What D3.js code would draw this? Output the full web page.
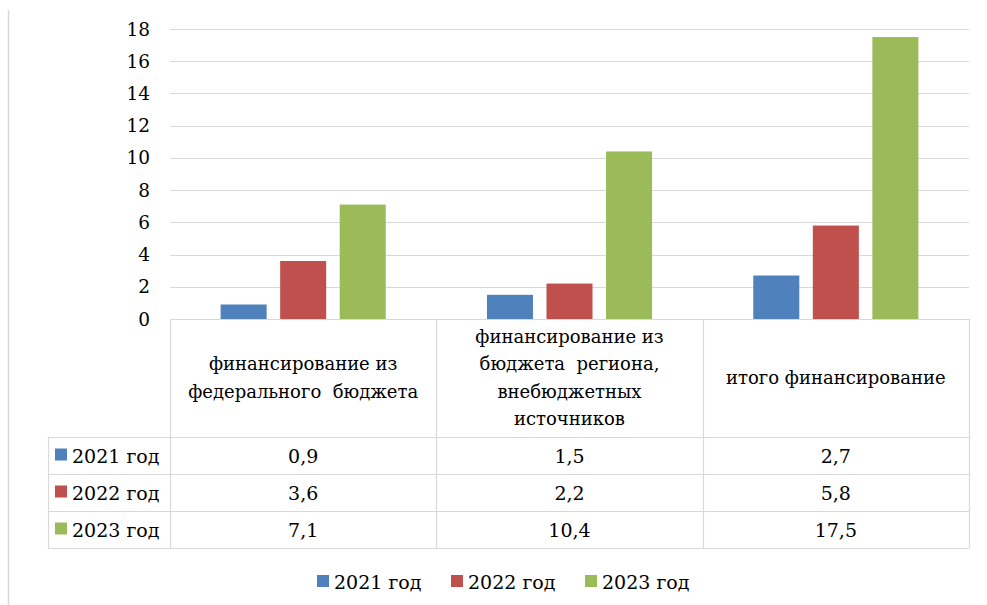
<!DOCTYPE html>
<html>
<head>
<meta charset="utf-8">
<script src="https://cdn.jsdelivr.net/npm/d3@7"></script>
<style>
  body { margin: 0; background: #fff; }
</style>
</head>
<body>
<svg id="chart" width="987" height="605"></svg>
<script>
// chart data
var categories = [
    ["финансирование из", "федерального  бюджета"],
    ["финансирование из", "бюджета  региона,", "внебюджетных", "источников"],
    ["итого финансирование"]
]
var seriesNames = ["2021 год", "2022 год", "2023 год"]
var seriesColors = ["#4f81bd", "#c0504d", "#9bbb59"]
var values2021 = [0.9, 1.5, 2.7]
var values2022 = [3.6, 2.2, 5.8]
var values2023 = [7.1, 10.4, 17.5]
var valueLabels = [["0,9", "1,5", "2,7"], ["3,6", "2,2", "5,8"], ["7,1", "10,4", "17,5"]]
var yTicks = [0, 2, 4, 6, 8, 10, 12, 14, 16, 18]

var allSeries = [values2021, values2022, values2023]

var svg = d3.select("#chart")
var gridColor = "#d9d9d9"
var FONT = "DejaVu Serif" // closest serif that actually loads here

var margin = {left: 170, right: 18, top: 29}
var plotW = 987 - margin.left - margin.right
var plotBottom = 319

var x = d3.scaleBand().domain(d3.range(categories.length)).range([margin.left, margin.left + plotW])
var xs = d3.scaleBand().domain(d3.range(seriesNames.length)).range([0, x.bandwidth()])
    .paddingInner(0.227).paddingOuter(0.85)
var y = d3.scaleLinear().domain([0, 18]).range([plotBottom, margin.top])

function addText(xx, yy, str, size, anchor){
    return svg.append("text").attr("x", xx).attr("y", yy)
        .attr("font-family", FONT).attr("font-size", size)
        .attr("text-anchor", anchor || "start").attr("fill", "#000")
        .text(str)
}

// outer frame line on the left
svg.append("line").attr("x1", 8.5).attr("x2", 8.5).attr("y1", 10).attr("y2", 605)
    .attr("stroke", gridColor).attr("stroke-width", 1.5)

// gridlines
svg.selectAll(".grid").data(yTicks.slice(1)).enter().append("line")
    .attr("x1", margin.left).attr("x2", margin.left + plotW)
    .attr("y1", function(d){ return Math.round(y(d)) + 0.5 })
    .attr("y2", function(d){ return Math.round(y(d)) + 0.5 })
    .attr("stroke", gridColor).attr("stroke-width", 1.2)

// y axis labels
yTicks.forEach(function(d){ addText(150, y(d) + 6.5, d, 18.5, "end") })

// bars
allSeries.forEach(function(vals, si){
    svg.selectAll(".bar" + si).data(vals).enter().append("rect")
        .attr("x", function(d, i){ return x(i) + xs(si) })
        .attr("width", xs.bandwidth())
        .attr("y", function(d){ return y(d) })
        .attr("height", function(d){ return y(0) - y(d) })
        .attr("fill", seriesColors[si])
})

// data table
var tableLeft = 48
var headerBottom = 437
var rowH = 37
var tableBottom = headerBottom + rowH * seriesNames.length

function hline(x1, x2, yy){
    svg.append("line").attr("x1", x1).attr("x2", x2).attr("y1", yy).attr("y2", yy)
        .attr("stroke", gridColor).attr("stroke-width", 1.2)
}
function vline(xx, y1, y2){
    svg.append("line").attr("x1", xx).attr("x2", xx).attr("y1", y1).attr("y2", y2)
        .attr("stroke", gridColor).attr("stroke-width", 1.2)
}

hline(margin.left, margin.left + plotW, plotBottom + 0.5)
for (var r = 0; r <= seriesNames.length; r++) hline(tableLeft, margin.left + plotW, headerBottom + r * rowH + 0.5)
vline(tableLeft + 0.5, headerBottom, tableBottom)
for (var c = 0; c <= categories.length; c++){
    var xx = c < categories.length ? x(c) : x(categories.length - 1) + x.bandwidth()
    vline(Math.round(xx) + 0.5, plotBottom, tableBottom)
}

// category header text
categories.forEach(function(lines, i){
    var cy = (plotBottom + headerBottom) / 2
    var lh = 27.3
    var startY = cy - (lines.length - 1) * lh / 2
    lines.forEach(function(line, j){
        addText(x(i) + x.bandwidth() / 2, startY + j * lh + 6, line, 18, "middle")
            .attr("xml:space", "preserve").style("white-space", "pre")
    })
})

// table rows
seriesNames.forEach(function(name, si){
    var cy = headerBottom + si * rowH + rowH / 2
    svg.append("rect").attr("x", 55).attr("y", cy - 7).attr("width", 12).attr("height", 12)
        .attr("fill", seriesColors[si])
    addText(72, cy + 7, name, 19)
    valueLabels[si].forEach(function(v, i){
        addText(x(i) + x.bandwidth() / 2, cy + 7, v, 19, "middle")
    })
})

// bottom legend
var legendX = [317, 451, 585]
seriesNames.forEach(function(name, si){
    svg.append("rect").attr("x", legendX[si]).attr("y", 575).attr("width", 12).attr("height", 12)
        .attr("fill", seriesColors[si])
    addText(legendX[si] + 17, 589, name, 19)
})
</script>
</body>
</html>
